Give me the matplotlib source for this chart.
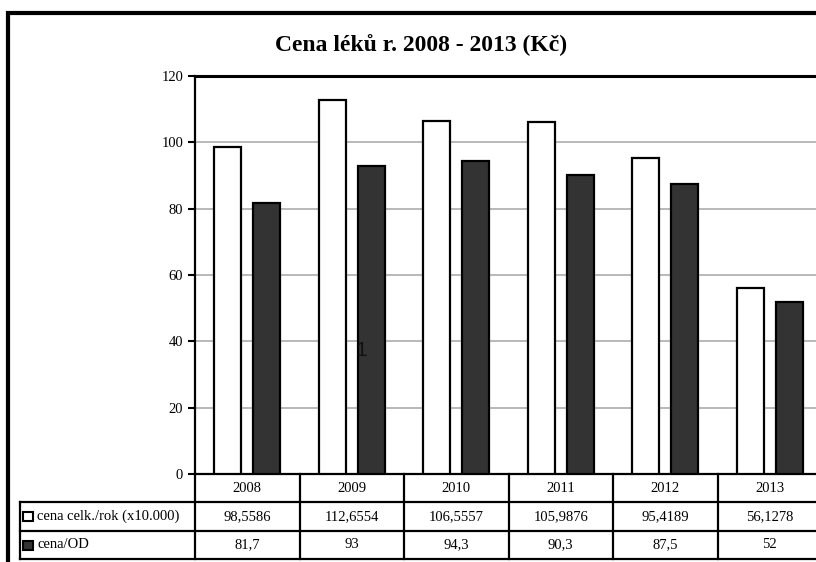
import matplotlib
matplotlib.use('Agg')
import matplotlib.pyplot as plt
import matplotlib.patches as mpatches
import numpy as np

years = ['2008', '2009', '2010', '2011', '2012', '2013']
cena_celk = [98.5586, 112.6554, 106.5557, 105.9876, 95.4189, 56.1278]
cena_od = [81.7, 93, 94.3, 90.3, 87.5, 52]
row_labels = ['cena celk./rok (x10.000)', 'cena/OD']
title = 'Cena léků r. 2008 - 2013 (Kč)'

plt.rcParams['font.family'] = ['Liberation Serif', 'DejaVu Serif']

W, H = 816, 562
fig = plt.figure(figsize=(W / 100, H / 100), dpi=100)
fig.patch.set_facecolor('white')

# axes placed in pixel terms, runs a bit past right edge like the original
ax_l, ax_r, ax_t, ax_b = 195, 822, 76, 474
ax = fig.add_axes([ax_l / W, 1 - ax_b / H, (ax_r - ax_l) / W, (ax_b - ax_t) / H])

x = np.arange(len(years)) + 0.5
bw = 0.258
off = 0.187
ax.bar(x - off, cena_celk, bw, color='white', edgecolor='black', linewidth=1.6, zorder=3)
ax.bar(x + off, cena_od, bw, color='#333333', edgecolor='black', linewidth=1.6, zorder=3)

ax.set_xlim(0, len(years))
ax.set_ylim(0, 120)
ax.set_yticks(range(0, 121, 20))
ax.set_xticks([])
ax.yaxis.grid(True, color='#a6a6a6', linewidth=1.1, zorder=0)
ax.set_axisbelow(True)
ax.tick_params(axis='y', direction='out', length=5, width=1.5, pad=3.5, labelsize=10.5)
for s in ['left', 'bottom']:
    ax.spines[s].set_linewidth(1.6)
ax.spines['top'].set_linewidth(2.2)
ax.spines['right'].set_visible(False)

# data table under the plot
ncat = len(years)
px = lambda p: (p - ax_l) / (ax_r - ax_l)          # pixel x -> axes fraction
py = lambda p: (ax_b - p) / (ax_b - ax_t)           # pixel y -> axes fraction
rows_y = [474, 502, 531, 559]
lab_x0 = 20
lw = 1.6
kw = dict(transform=ax.transAxes, color='black', linewidth=lw, clip_on=False, solid_capstyle='projecting')
for yy in rows_y[1:]:
    ax.plot([px(lab_x0), 1.02], [py(yy), py(yy)], **kw)
ax.plot([px(lab_x0), px(lab_x0)], [py(rows_y[1]), py(rows_y[3])], **kw)
for i in range(ncat + 1):
    xf = i / ncat
    ax.plot([xf, xf], [py(rows_y[0]), py(rows_y[3])], **kw)

def fmt(v):
    return '{:.10g}'.format(v).replace('.', ',')

for i, yr in enumerate(years):
    xc = (i + 0.5) / ncat
    ax.text(xc, py((rows_y[0] + rows_y[1]) / 2), yr, transform=ax.transAxes,
            ha='center', va='center', fontsize=10.5)
    ax.text(xc, py((rows_y[1] + rows_y[2]) / 2), fmt(cena_celk[i]), transform=ax.transAxes,
            ha='center', va='center', fontsize=10.5)
    ax.text(xc, py((rows_y[2] + rows_y[3]) / 2), fmt(cena_od[i]), transform=ax.transAxes,
            ha='center', va='center', fontsize=10.5)

for r, (lab, fc) in enumerate(zip(row_labels, ['white', '#333333'])):
    yc = (rows_y[r + 1] + rows_y[r + 2]) / 2
    sq = mpatches.Rectangle((23 / W, 1 - (yc + 4.5) / H), 10 / W, 9 / H,
                            transform=fig.transFigure, facecolor=fc, edgecolor='black',
                            linewidth=1.5, clip_on=False)
    fig.add_artist(sq)
    fig.text(37 / W, 1 - yc / H, lab, ha='left', va='center', fontsize=10.5)

fig.text(421 / W, 1 - 45 / H, title, ha='center', va='center', fontsize=17, fontweight='bold')

# stray label left in the original chart
ax.text(px(361.5), py(351), '1', transform=ax.transAxes, ha='center', va='center',
        fontsize=15, family=['Liberation Sans', 'DejaVu Sans'], color='#111111', zorder=10)

# outer chart frame (only top and left visible)
frame = mpatches.Rectangle((8 / W, -0.2), 1.5, 0.2 + (1 - 13 / H),
                           transform=fig.transFigure, facecolor='none', edgecolor='black',
                           linewidth=3, clip_on=False)
fig.add_artist(frame)

fig.savefig('out.png', dpi=100)
